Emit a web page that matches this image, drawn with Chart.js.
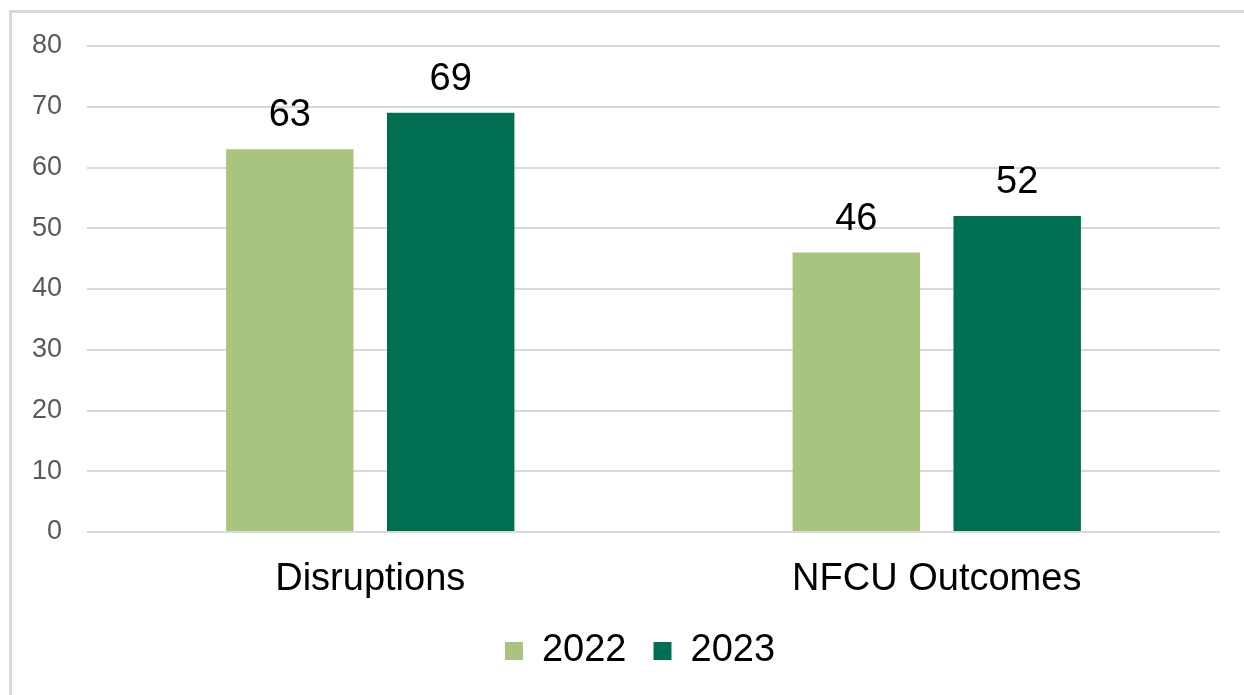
<!DOCTYPE html>
<html>
<head>
<meta charset="utf-8">
<script src="https://cdn.jsdelivr.net/npm/chart.js@4/dist/chart.umd.min.js"></script>
<style>
  html, body { margin: 0; padding: 0; background: #fff; }
  #wrap { position: relative; width: 1244px; height: 695px; overflow: hidden; }
  #frame {
    position: absolute; left: 9px; top: 10px; width: 1260px; height: 720px;
    border-left: 3px solid #d9d9d9; border-top: 3px solid #d9d9d9;
  }
  canvas { position: absolute; left: 0; top: 0; }
</style>
</head>
<body>
<div id="wrap">
  <div id="frame"></div>
  <canvas id="chart" width="1244" height="695"></canvas>
</div>
<script>
  const categories = ["Disruptions", "NFCU Outcomes"];
  const seriesNames = ["2022", "2023"];
  const values2022 = [63, 46];
  const values2023 = [69, 52];
  const yMin = 0, yMax = 80, yStep = 10;

  const LIGHT = "#a9c47f";
  const DARK = "#006f51";
  const GRID = "#d9d9d9";
  const FONT = "'Liberation Sans', Arial, sans-serif";

  // values drawn above each bar
  const barLabels = {
    id: "barLabels",
    afterDatasetsDraw(chart) {
      const ctx = chart.ctx;
      ctx.save();
      ctx.fillStyle = "#000";
      ctx.font = "38px " + FONT;
      ctx.textAlign = "center";
      ctx.textBaseline = "alphabetic";
      chart.data.datasets.forEach((ds, i) => {
        chart.getDatasetMeta(i).data.forEach((bar, j) => {
          ctx.fillText(String(ds.data[j]), bar.x, bar.y - 23);
        });
      });
      ctx.restore();
    },
  };

  // legend sits a bit right of the plot centre in the original
  const legendShift = {
    id: "legendShift",
    afterLayout(chart) {
      if (!chart.legend) return;
      chart.legend.left += 30;
      chart.legend.right += 30;
    },
  };

  new Chart(document.getElementById("chart"), {
    type: "bar",
    data: {
      labels: categories,
      datasets: [
        { label: seriesNames[0], data: values2022, backgroundColor: LIGHT },
        { label: seriesNames[1], data: values2023, backgroundColor: DARK },
      ],
    },
    options: {
      responsive: false,
      animation: false,
      devicePixelRatio: 1,
      categoryPercentage: 0.568,
      barPercentage: 0.792,
      layout: { padding: { top: 46, right: 24, bottom: 15, left: 0 } },
      plugins: {
        legend: {
          position: "bottom",
          labels: {
            font: { size: 38, family: FONT },
            color: "#000",
            boxWidth: 18,
            boxHeight: 18,
            padding: 27,
          },
        },
        tooltip: { enabled: false },
      },
      scales: {
        x: {
          grid: { display: false, drawTicks: false },
          border: { display: false },
          ticks: { font: { size: 38, family: FONT }, color: "#000", padding: 25 },
          afterFit: (s) => { s.height = 73; },
        },
        y: {
          min: yMin,
          max: yMax,
          grid: { color: GRID, lineWidth: 2, drawTicks: false },
          border: { display: false },
          ticks: {
            stepSize: yStep,
            font: { size: 27, family: FONT },
            color: "#595959",
            padding: 25,
          },
          afterFit: (s) => { s.width = 87; },
        },
      },
    },
    plugins: [barLabels, legendShift],
  });
</script>
</body>
</html>
